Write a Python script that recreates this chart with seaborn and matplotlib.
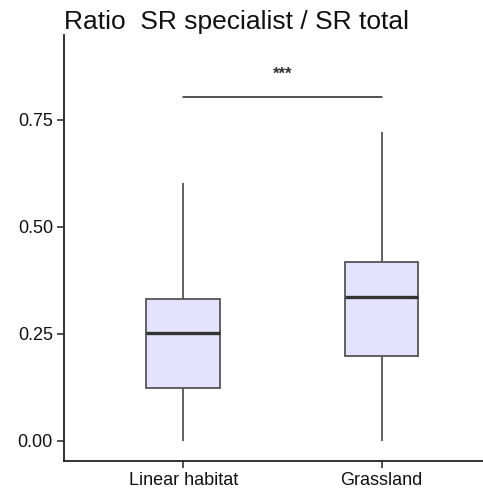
import matplotlib
matplotlib.use("Agg")
import matplotlib.pyplot as plt
import seaborn as sns
import pandas as pd
import numpy as np

# Five-number summaries (min, Q1, median, Q3, max)
categories = ["Linear habitat", "Grassland"]
linear_habitat = [0.0, 0.124, 0.252, 0.332, 0.603]
grassland = [0.0, 0.199, 0.336, 0.418, 0.722]
yticks = [0.00, 0.25, 0.50, 0.75]
ytick_labels = ["0.00", "0.25", "0.50", "0.75"]
sig_level = 0.804
sig_text = "***"
title = "Ratio  SR specialist / SR total"

df = pd.DataFrame({
    "habitat": [categories[0]] * len(linear_habitat) + [categories[1]] * len(grassland),
    "ratio": linear_habitat + grassland,
})

sns.set_theme(style="white")
plt.rcParams["font.family"] = ["Liberation Sans", "DejaVu Sans"]

fig = plt.figure(figsize=(4.83, 4.95), dpi=100)
ax = fig.add_axes([0.1325, 0.0687, 0.8675, 0.8606])

sns.boxplot(
    data=df, x="habitat", y="ratio", order=categories, ax=ax,
    whis=np.inf, width=0.37, color="#E3E3FF", saturation=1,
    linewidth=1.3, linecolor="#555555",
    medianprops=dict(color="#333333", linewidth=2.4),
    showcaps=False,
)

ax.set_xlim(-0.6, 1.51)
ax.set_ylim(-0.047, 0.948)
ax.set_yticks(yticks)
ax.set_yticklabels(ytick_labels)
ax.set_xlabel("")
ax.set_ylabel("")
for s in ["top", "right"]:
    ax.spines[s].set_visible(False)
for s in ["left", "bottom"]:
    ax.spines[s].set_color("#222222")
    ax.spines[s].set_linewidth(1.3)
ax.tick_params(axis="both", which="both", length=5, width=1.1, color="#222222",
               labelsize=13, labelcolor="#111111", left=True, bottom=True, pad=3)

ax.plot([0, 1], [sig_level, sig_level], color="#222222", linewidth=1.1)
ax.text(0.5, sig_level + 0.053, sig_text, ha="center", va="center", fontsize=12,
        color="#333333", fontweight="bold")

ax.set_title(title, loc="left", fontsize=19, color="#111111", pad=4, x=0.0)

fig.savefig("out.png", dpi=100)
